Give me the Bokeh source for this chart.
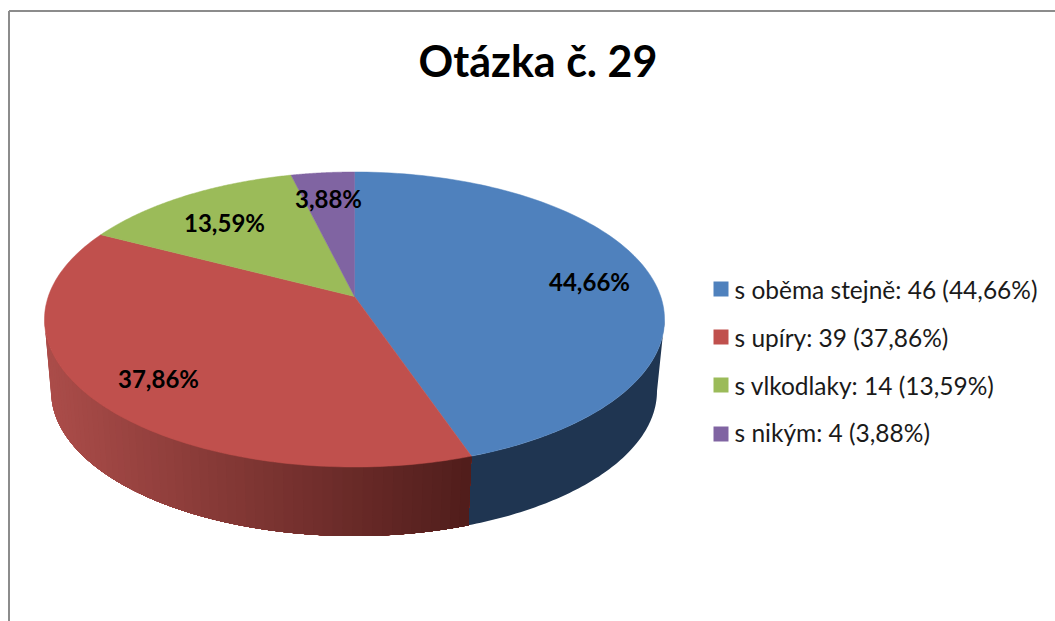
import numpy as np
from bokeh.plotting import figure
from bokeh.core.properties import value
from bokeh.embed import file_html
from bokeh.resources import INLINE

title = "Otázka č. 29"
categories = ["s oběma stejně", "s upíry", "s vlkodlaky", "s nikým"]
counts = [46, 39, 14, 4]
percents = ["44,66%", "37,86%", "13,59%", "3,88%"]
colors = ["#4F81BD", "#C0504D", "#9BBB59", "#8064A2"]

FONT = "Lato"
W, H = 1055, 621

# canvas uses picture pixels, y downwards
p = figure(width=W, height=H, output_backend="svg", toolbar_location=None,
           x_range=(0, W), y_range=(H, 0), min_border=0,
           x_axis_type="linear", y_axis_type="linear")
p.axis.visible = False
p.grid.visible = False
p.outline_line_color = None
p.background_fill_color = "white"
p.border_fill_color = "white"

# frame: only left and top edges are visible in the crop
p.line([8.5, 8.5], [621, 10.5], line_color="#8C8C8C", line_width=2)
p.line([8.5, 1055], [10.5, 10.5], line_color="#8C8C8C", line_width=2)

# perspective pie geometry
AX, AY = 354.0, 296.0   # apex
CX, CY, RX, RY = 354.0, 319.0, 310.0, 147.5   # top ellipse
BX, BY, BRX, BRY = 353.5, 390.5, 303.0, 145.0  # bottom ellipse
K = 2.10


def rim(theta):
    """Point of the top ellipse for a true pie angle, clockwise from 12 o'clock."""
    dx, dy = K * np.sin(theta), -np.cos(theta)
    ox, oy = (AX - CX) / RX, (AY - CY) / RY
    ux, uy = dx / RX, dy / RY
    a = ux * ux + uy * uy
    b = 2 * (ox * ux + oy * uy)
    c = ox * ox + oy * oy - 1
    s = (-b + np.sqrt(b * b - 4 * a * c)) / (2 * a)
    return AX + s * dx, AY + s * dy


total = sum(counts)
edges = np.cumsum([0] + counts) / total * 2 * np.pi

# side walls
xb, yb = rim(edges[1])
t_split = np.arctan2((yb - CY) / RY, (xb - CX) / RX)


def strip(t0, t1, n=24):
    t = np.linspace(t0, t1, n)
    xs = list(CX + RX * np.cos(t)) + list(BX + BRX * np.cos(t))[::-1]
    ys = list(CY + RY * np.sin(t)) + list(BY + BRY * np.sin(t))[::-1]
    return xs, ys


bx, by = strip(0, t_split, 80)
p.patch(bx, by, fill_color="#1F3551", line_color=None)

# red wall: gradient bands painted from the left so each overlaps the next
left = np.array([0xAA, 0x4C, 0x49])
right = np.array([0x50, 0x1D, 0x1B])
n_strips = 60
ts = np.linspace(np.pi, t_split, n_strips + 1)
sx, sy, sc = [], [], []
for i in range(n_strips):
    xs, ys = strip(ts[i], t_split, 90 - i)
    mid = CX + RX * np.cos((ts[i] + ts[i + 1]) / 2)
    f = (mid - 50) / (470 - 50)
    c = right * f + left * (1 - f)
    sx.append(xs)
    sy.append(ys)
    sc.append("#%02x%02x%02x" % tuple(int(round(v)) for v in c))
p.patches(sx, sy, fill_color=sc, line_color=None)

# top face
fx, fy = [], []
for i in range(len(counts)):
    th = np.linspace(edges[i], edges[i + 1], 120)
    x, y = rim(th)
    fx.append([AX] + list(x))
    fy.append([AY] + list(y))
p.patches(fx, fy, fill_color=colors, line_color=colors, line_width=0.5)

# slice labels
label_x = [589, 158, 224, 328]
label_y = [280.5, 377.5, 221.5, 197.5]
p.text(label_x, label_y, text=percents, text_font=value(FONT), text_font_style="bold",
       text_font_size="24px", text_color="black", text_align="center", text_baseline="middle")

# title
p.text([537.5], [60], text=[title], text_font=value(FONT), text_font_style="bold",
       text_font_size="43px", text_color="black", text_align="center", text_baseline="middle")

# legend
leg_y = [288.5, 336.5, 384.5, 433.5]
text_y = [288.5, 336.5, 384.5, 432.0]
p.scatter([720.5] * 4, leg_y, marker="square", size=15, fill_color=colors, line_color=None)
labels = [f"{c}: {n} ({s})" for c, n, s in zip(categories, counts, percents)]
p.text([734] * 4, text_y, text=labels, text_font=value(FONT),
       text_font_size="24.5px", text_color="#1a1a1a", text_align="left", text_baseline="middle")

open("out.html", "w").write(file_html(p, INLINE))
